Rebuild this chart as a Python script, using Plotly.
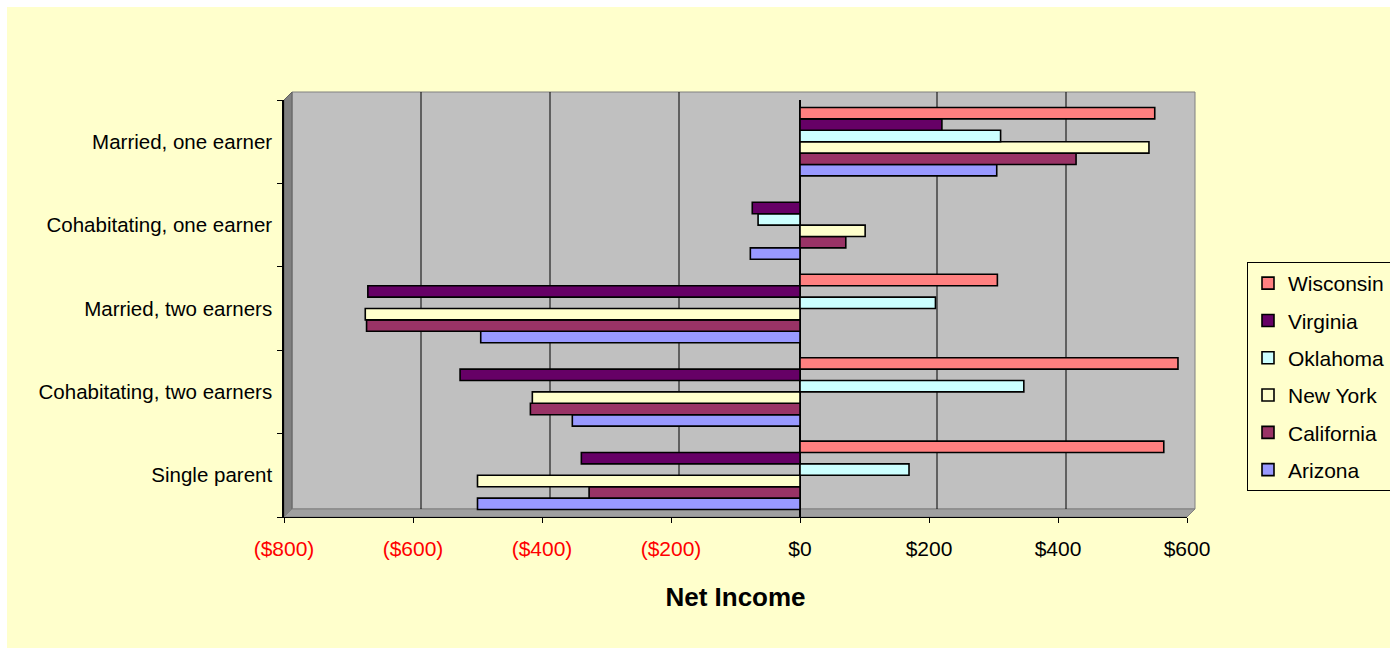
import plotly.graph_objects as go

# ---------------- data ----------------
categories = ["Single parent", "Cohabitating, two earners", "Married, two earners",
              "Cohabitating, one earner", "Married, one earner"]
series_names = ["Arizona", "California", "New York", "Oklahoma", "Virginia", "Wisconsin"]
arizona = [-500, -353, -495, -77, 305]
california = [-327, -418, -672, 71, 428]
new_york = [-500, -415, -674, 101, 541]
oklahoma = [169, 347, 210, -65, 311]
virginia = [-339, -527, -670, -74, 220]
wisconsin = [564, 586, 306, 0, 550]
tick_vals = [-800, -600, -400, -200, 0, 200, 400, 600]
tick_labels = ["($800)", "($600)", "($400)", "($200)", "$0", "$200", "$400", "$600"]

series_values = [arizona, california, new_york, oklahoma, virginia, wisconsin]
colors = ["#9999FF", "#993366", "#FFFFCC", "#CCFFFF", "#660066", "#FF8080"]

# ---------------- layout geometry (pixels) ----------------
W, H = 1390, 652
L, R, T, B = 284, 1187, 100, 517
pw, ph = R - L, B - T
D = 8  # 3D depth offset


def xf(px):
    return (px - L) / pw


def yf(py):
    return (B - py) / ph


FONT = "Liberation Sans, Arial, sans-serif"

fig = go.Figure()
n = len(series_names)
for i, (name, vals, col) in enumerate(zip(series_names, series_values, colors)):
    fig.add_trace(go.Bar(
        y=categories, x=vals, name=name, orientation="h",
        marker=dict(color=col, line=dict(color="black", width=1.6)),
        legendgroup=name, legendrank=1000 + (n - i),
    ))

shapes = []
# chart background (white border around yellow area)
shapes.append(dict(type="rect", xref="paper", yref="paper", layer="below",
                   x0=xf(7), x1=xf(1392), y0=yf(648), y1=yf(7),
                   fillcolor="#FFFFCC", line=dict(width=0)))
# back wall
shapes.append(dict(type="rect", xref="paper", yref="paper", layer="below",
                   x0=xf(L + D), x1=xf(R + D), y0=yf(B - D), y1=yf(T - D),
                   fillcolor="#C0C0C0", line=dict(color="#808080", width=1)))
# left wall
shapes.append(dict(type="path", xref="paper", yref="paper", layer="below",
                   path=f"M {xf(L)} {yf(B)} L {xf(L)} {yf(T)} L {xf(L + D)} {yf(T - D)} "
                        f"L {xf(L + D)} {yf(B - D)} Z",
                   fillcolor="#808080", line=dict(color="#606060", width=1)))
# floor
shapes.append(dict(type="path", xref="paper", yref="paper", layer="below",
                   path=f"M {xf(L)} {yf(B)} L {xf(L + D)} {yf(B - D)} L {xf(R + D)} {yf(B - D)} "
                        f"L {xf(R)} {yf(B)} Z",
                   fillcolor="#A0A0A0", line=dict(color="#808080", width=1)))
# back-wall gridlines
for v in tick_vals[1:-1]:
    if v == 0:
        continue
    shapes.append(dict(type="line", xref="x", yref="paper", layer="below",
                       xsizemode="pixel", xanchor=v, x0=D, x1=D,
                       y0=yf(B - D), y1=yf(T - D),
                       line=dict(color="black", width=1)))

ticktext = [f"<span style='color:#FF0000'>{t}</span>" if v < 0 else t
            for v, t in zip(tick_vals, tick_labels)]

fig.update_layout(
    width=W, height=H,
    margin=dict(l=L, r=W - R, t=T, b=H - B, autoexpand=False),
    paper_bgcolor="white",
    plot_bgcolor="rgba(0,0,0,0)",
    font=dict(family=FONT, color="black", size=20),
    barmode="group", bargap=0.18, bargroupgap=0,
    shapes=shapes,
    showlegend=True,
    legend=dict(
        x=xf(1247), y=yf(262), xanchor="left", yanchor="top",
        traceorder="grouped", tracegroupgap=7,
        bgcolor="#FFFFCC", bordercolor="#000000", borderwidth=1,
        font=dict(family=FONT, size=21, color="black"),
    ),
    xaxis=dict(
        range=[-800, 600], tickvals=tick_vals, ticktext=ticktext,
        showgrid=False, zeroline=True, zerolinecolor="black", zerolinewidth=1.5,
        showline=True, linecolor="black", linewidth=1,
        ticks="outside", ticklen=5, tickcolor="black",
        tickfont=dict(size=21, family=FONT), ticklabelstandoff=8,
        title=dict(text="<b>Net Income</b>", font=dict(size=26, family=FONT),
                   standoff=28),
    ),
    yaxis=dict(
        type="category", categoryorder="array", categoryarray=categories,
        showgrid=False, showline=True, linecolor="black", linewidth=1.5,
        ticks="outside", ticklen=5, tickcolor="black", tickson="boundaries",
        tickfont=dict(size=20.5, family=FONT), ticklabelstandoff=6,
    ),
)

fig.write_html("out.html")
